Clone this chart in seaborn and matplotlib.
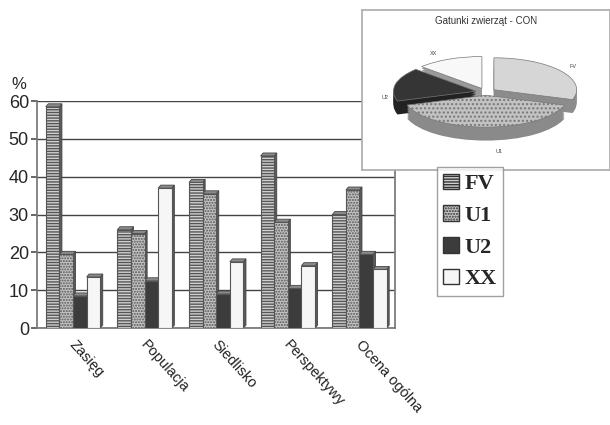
import matplotlib
matplotlib.use("Agg")
import matplotlib.pyplot as plt
import seaborn as sns
import pandas as pd
from matplotlib.patches import Polygon, Patch

categories = ["Zasięg", "Populacja", "Siedlisko", "Perspektywy", "Ocena ogólna"]
series = ["FV", "U1", "U2", "XX"]
fv = [58.5, 26, 38.5, 45.5, 30]
u1 = [19.5, 25, 35.5, 28, 36.5]
u2 = [8.5, 12.5, 9, 10.5, 19.5]
xx = [13.5, 37, 17.5, 16.5, 15.5]
yticks = [0, 10, 20, 30, 40, 50, 60]

pie_labels = ["FV", "U1", "U2", "XX"]
pie_values = [30, 40, 17, 13]

rows = []
for s, vals in zip(series, [fv, u1, u2, xx]):
    for c, v in zip(categories, vals):
        rows.append({"cat": c, "ser": s, "val": v})
df = pd.DataFrame(rows)

sns.set_theme(style="white")
plt.rcParams["font.family"] = ["Liberation Sans", "DejaVu Sans"]
plt.rcParams["hatch.color"] = "#555555"

face = {"FV": "#d0d0d0", "U1": "#c4c4c4", "U2": "#3c3c3c", "XX": "#f6f6f6"}
hatch = {"FV": "------", "U1": "......", "U2": "", "XX": ""}

fig = plt.figure(figsize=(6.1, 4.25), dpi=100)
ax = fig.add_axes([0.061, 0.228, 0.587, 0.534])
sns.barplot(data=df, x="cat", y="val", hue="ser", order=categories,
            hue_order=series, palette=face, width=0.76, ax=ax,
            legend=False, edgecolor="#555555", linewidth=0.8, saturation=1)

# hatches and pseudo-3D sides
for cont, s in zip(ax.containers, series):
    for p in cont.patches:
        p.set_hatch(hatch[s])
        p.set_zorder(3)
        x0 = p.get_x()
        w, h = p.get_width(), p.get_height()
        dx, dy = 0.035, 0.8
        side = Polygon([(x0 + w, 0), (x0 + w + dx, dy), (x0 + w + dx, h + dy), (x0 + w, h)],
                       closed=True, facecolor="#5a5a5a", edgecolor="#444444", lw=0.6, zorder=2)
        top = Polygon([(x0, h), (x0 + dx, h + dy), (x0 + w + dx, h + dy), (x0 + w, h)],
                      closed=True, facecolor="#8a8a8a", edgecolor="#444444", lw=0.6, zorder=2)
        ax.add_patch(side)
        ax.add_patch(top)

ax.set_ylim(0, 60)
ax.set_xlim(-0.5, len(categories) - 0.5)
ax.set_yticks(yticks)
ax.set_yticklabels([str(t) for t in yticks], fontsize=13)
ax.yaxis.grid(True, color="#444444", linewidth=1.0)
ax.set_axisbelow(True)
ax.set_xlabel("")
ax.set_ylabel("")
ax.tick_params(axis="y", length=4, left=True, color="#555555", pad=2)
ax.tick_params(axis="x", length=0)
for sp in ["left", "bottom", "right"]:
    ax.spines[sp].set_color("#777777")
ax.spines["top"].set_visible(False)
ax.set_xticks(range(len(categories)))
ax.set_xticklabels([])
for i, c in enumerate(categories):
    ax.text(i - 0.02, -3.8, c, rotation=-48, rotation_mode="anchor",
            ha="left", va="center", fontsize=10.5, color="#222222")
fig.text(0.018, 0.79, "%", fontsize=12)

# legend
handles = [Patch(facecolor=face[s], edgecolor="#333333", hatch=hatch[s]) for s in series]
leg = fig.legend(handles, series, loc="upper left", bbox_to_anchor=(0.716, 0.607),
                 borderaxespad=0,
                 prop={"family": "Liberation Serif", "weight": "bold", "size": 16},
                 frameon=True, fancybox=False, edgecolor="#888888",
                 handlelength=0.7, handleheight=0.7, handletextpad=0.25,
                 labelspacing=0.5, borderpad=0.3)
leg.get_frame().set_linewidth(1.0)

# inset pie
pax = fig.add_axes([0.593, 0.6, 0.407, 0.376])
pax.set_facecolor("white")
pie_face = ["#d6d6d6", "#c2c2c2", "#353535", "#f8f8f8"]
pie_side = ["#8c8c8c", "#8a8a8a", "#222222", "#9a9a9a"]
explode = [0.12, 0.1, 0.12, 0.12]
for k in range(7, 0, -1):
    pax.pie(pie_values, startangle=90, counterclock=False, explode=explode,
            colors=pie_side, center=(0, -0.06 * k),
            wedgeprops={"linewidth": 0})
wed, _ = pax.pie(pie_values, startangle=90, counterclock=False, explode=explode,
                 colors=pie_face, wedgeprops={"edgecolor": "#777777", "linewidth": 0.5})
wed[1].set_hatch("....")
pax.set_aspect("auto")
pax.set_xlim(-1.5, 1.5)
pax.set_ylim(-2.44, 2.56)
pax.set_xticks([])
pax.set_yticks([])
pax.set_frame_on(True)
for sp in pax.spines.values():
    sp.set_visible(True)
    sp.set_color("#aaaaaa")
    sp.set_linewidth(1.2)
pax.text(0.5, 0.93, "Gatunki zwierząt - CON", transform=pax.transAxes,
         fontsize=7, color="#333333", ha="center", va="center")
for lbl, (xl, yl) in zip(pie_labels, [(1.05, 0.8), (0.16, -1.85), (-1.22, -0.16), (-0.63, 1.2)]):
    pax.text(xl, yl, lbl, fontsize=4, color="#444444", ha="center", va="center")

fig.savefig("out.png", dpi=100, facecolor="white")
